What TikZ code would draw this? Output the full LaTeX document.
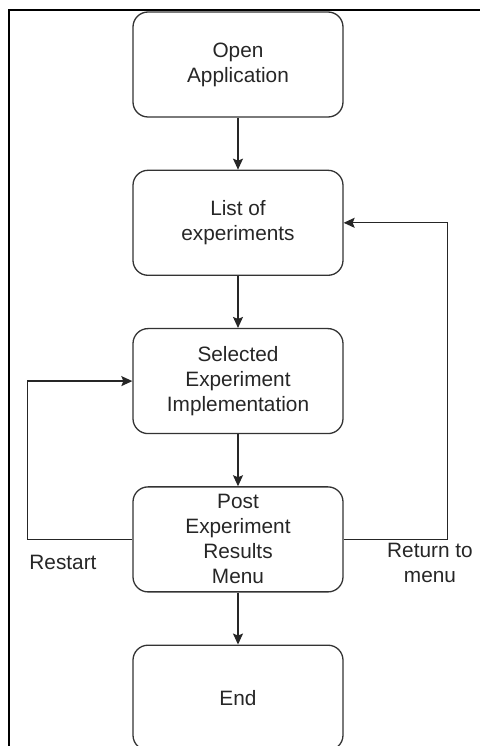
\documentclass[tikz,border=0pt]{standalone}
\usepackage{fontspec}
\setmainfont{Liberation Sans}
\usetikzlibrary{
	arrows.meta,
	positioning
}

\begin{document}
\begin{tikzpicture}[
		x=1pt, y=1pt,
		box/.style={draw=black!80, rounded corners=7.5pt, line width=0.65pt, align=center, minimum width=105pt, minimum height=52.5pt, inner sep=2pt, text=black!85},
		lbl/.style={align=center, text=black!85, inner sep=0pt},
		arrow/.style={-{Stealth[length=5.5pt,width=5pt,inset=1pt]}, line width=0.65pt, draw=black!85},
		line/.style={line width=0.65pt, draw=black!85},
		node distance=26pt,
		font=\fontsize{10.4}{12.5}\selectfont
		]
		
		% =========================
		% Page and outer frame
		% =========================
		\useasboundingbox (0,0) rectangle (240,373);
		\begin{scope}
			\clip (0,0) rectangle (240,373);
			\draw[line width=1.2pt] (4.5,-10) rectangle (260,368);
		\end{scope}
		
		% =========================
		% Flow steps
		% =========================
		\node[box] (open) at (119,340.75) {Open\\ Application};
		\node[box, below=26pt of open] (list) {List of\\ experiments};
		\node[box, below=26pt of list] (selected) {Selected\\ Experiment\\ Implementation};
		\node[box, below=26pt of selected] (post) {Post\\ Experiment\\ Results\\ Menu};
		\node[box, below=26pt of post] (end) {End};
		
		% =========================
		% Arrows: straight down the flow
		% =========================
		\draw[arrow] (open) -- (list);
		\draw[arrow] (list) -- (selected);
		\draw[arrow] (selected) -- (post);
		\draw[arrow] (post) -- (end);
		
		% Loops back from the results menu
		\draw[arrow] (post.west) -- ++(-52.5,0) |- (selected.west);
		\draw[arrow] (post.east) -- ++(52,0) |- (list.east);
		
		% Loop labels
		\node[lbl] (restart) at (31.5,92) {Restart};
		\node[lbl] (return) at (215,91.5) {Return to\\ menu};
		
	\end{tikzpicture}
\end{document}
